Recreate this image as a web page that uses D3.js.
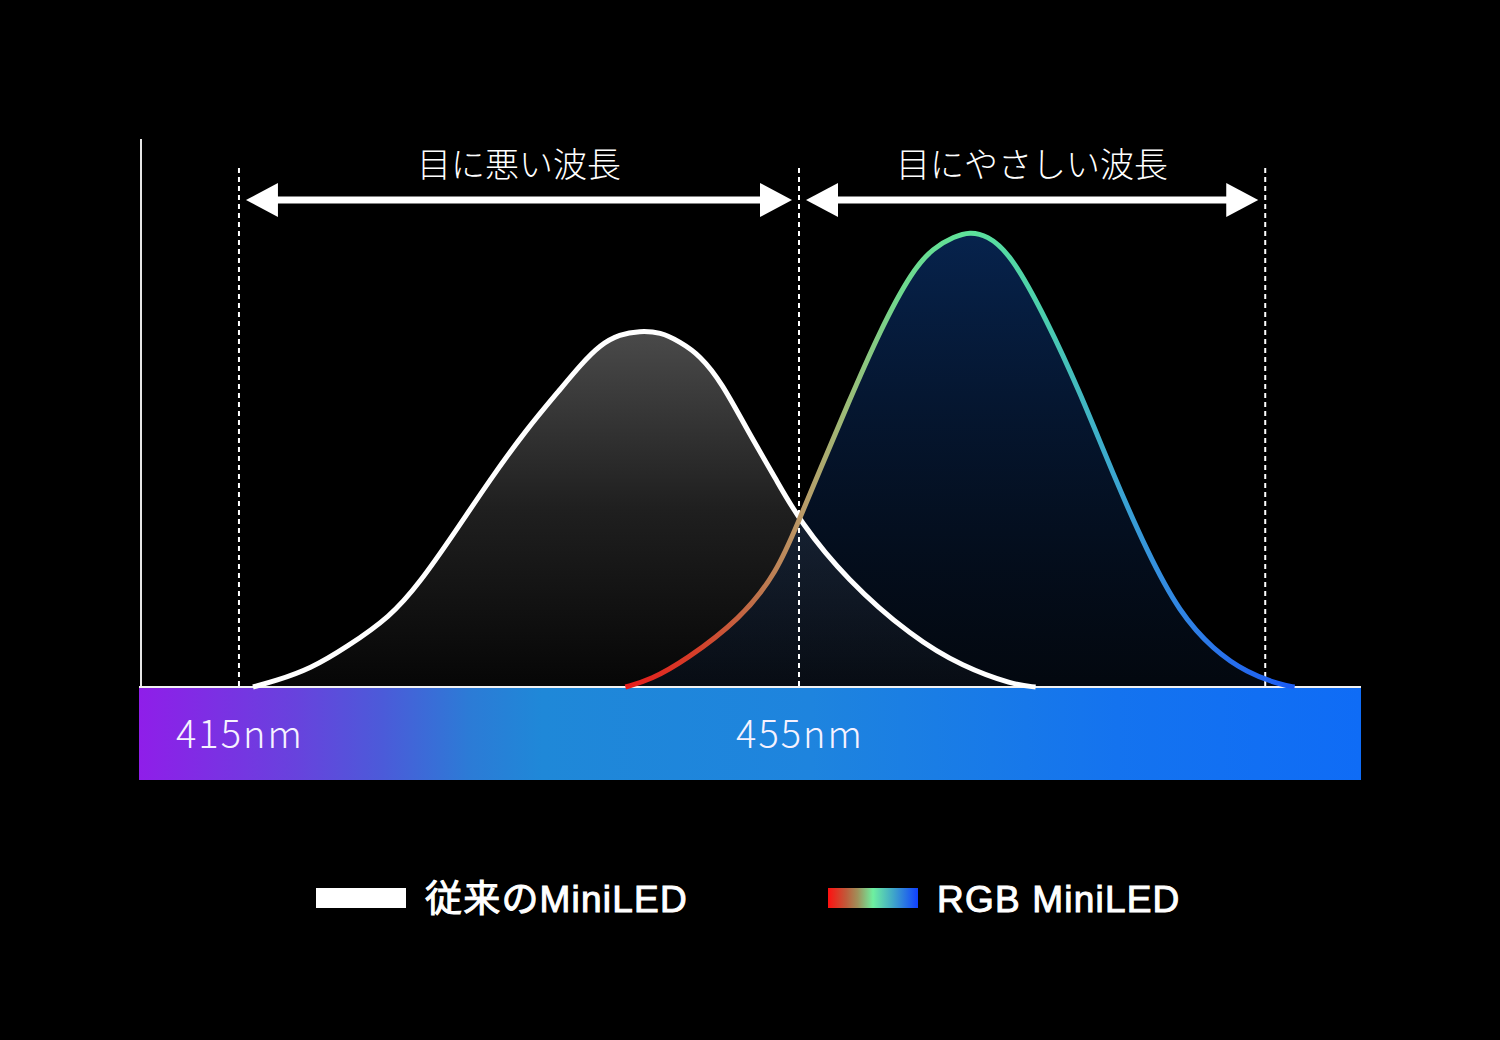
<!DOCTYPE html>
<html lang="ja">
<head>
    <meta charset="UTF-8">
    <title>RGB MiniLED spectrum</title>
    <script src="https://cdn.jsdelivr.net/npm/d3@7/dist/d3.min.js"></script>
</head>
<body>
<svg id='chart' width='1500' height='1040'></svg>
</body>
</html>
<script>
    // 波長の境界 (nm)
    var boundaryNm = [415, 455, 488.3]
    var tickNm = [415, 455]
    var tickLabels = ['415nm', '455nm']
    var bandTitles = ['目に悪い波長', '目にやさしい波長']
    var seriesNames = ['従来のMiniLED', 'RGB MiniLED']

    // 従来のMiniLED (nm, 相対強度)
    var conventionalNm = [416.0, 417.6, 420.1, 422.7, 425.8, 427.9, 430.4, 432.9, 435.5, 438.0, 439.4, 440.8,
        442.2, 443.6, 445.1, 446.5, 447.9, 449.5, 451.3, 453.4, 455.0, 458.4, 463.1, 466.7, 470.3, 471.9]
    var conventionalValue = [0, 1.1, 3.3, 7.3, 12.8, 19.0, 28.2, 37.8, 47.0, 54.6, 58.9, 62.6,
        64.5, 65.1, 64.9, 63.1, 60.7, 55.6, 47.0, 37.8, 30.5, 19.6, 9.1, 3.7, 0.4, 0]

    // RGB MiniLED
    var rgbNm = [442.6, 444.4, 446.9, 450.8, 453.4, 455.0, 456.5, 458.4, 460.8, 463.1, 464.6, 466.1, 467.2,
        468.4, 470.1, 472.7, 475.1, 477.4, 479.9, 482.2, 484.6, 487.0, 489.4, 490.4]
    var rgbValue = [0, 1.3, 4.9, 12.4, 20.8, 30.5, 39.7, 51.2, 65.3, 76.2, 80.3, 82.4, 83.2,
        82.6, 79.3, 67.1, 53.7, 39.1, 24.5, 13.5, 6.8, 2.6, 0.4, 0]

    var width = 1500,
        height = 1040,
        plotLeft = 139, plotRight = 1361,
        plotBase = 687, plotTop = 140   //  window.top と被らないように

    var x = d3.scaleLinear().domain([407.86, 495.14]).range([plotLeft, plotRight])
    var y = d3.scaleLinear().domain([0, 100]).range([plotBase, plotTop])

    var svg = d3.select('#chart').style('background', '#000').style('display', 'block')
    var defs = svg.append('defs')

    function linearGrad(id, x1, y1, x2, y2, stops) {
        var g = defs.append('linearGradient').attr('id', id)
            .attr('gradientUnits', 'userSpaceOnUse')
            .attr('x1', x1).attr('y1', y1).attr('x2', x2).attr('y2', y2)
        stops.forEach(function (s) {
            g.append('stop').attr('offset', s[0]).attr('stop-color', s[1])
                .attr('stop-opacity', s[2] == null ? 1 : s[2])
        })
    }

    svg.append('rect').attr('width', width).attr('height', height).attr('fill', '#000')

    // 下の波長バー
    linearGrad('barGrad', plotLeft, 0, plotRight, 0, [
        [0, '#8f1ee9'], [0.13, '#6743dd'], [0.2, '#4b5bd9'], [0.27, '#2c7bd6'],
        [0.33, '#1f88d8'], [0.55, '#1e84de'], [0.8, '#1473ef'], [1, '#0f6cf6']])
    svg.append('rect').attr('x', plotLeft).attr('y', plotBase).attr('width', plotRight - plotLeft).attr('height', 93)
        .attr('fill', 'url(#barGrad)')

    // 面のグラデーション
    linearGrad('whiteFill', 0, y(65), 0, plotBase, [[0, '#4a4a4a'], [0.5, '#1f1f1f'], [1, '#060606']])
    linearGrad('rgbFill', 0, y(83), 0, plotBase, [[0, '#0b3a80', 0.6], [0.5, '#0a2a5a', 0.45], [1, '#0a1a33', 0.3]])
    linearGrad('rgbStroke', x(442.6), 0, x(490.4), 0, [
        [0, '#e81c1c'], [0.11, '#d4402a'], [0.2, '#bd744c'], [0.26, '#bc9866'], [0.33, '#9cbc78'],
        [0.41, '#6fd88e'], [0.51, '#5ee39a'], [0.62, '#4ccfac'], [0.71, '#3eaeca'],
        [0.8, '#348ee0'], [0.9, '#2870ec'], [1, '#1a5cf5']])
    linearGrad('legendGrad', 828, 0, 918, 0, [
        [0, '#ff1010'], [0.2, '#c05a3a'], [0.33, '#a0905a'], [0.5, '#6ef0a0'],
        [0.72, '#40a8c8'], [1, '#1040ff']])

    var conventional = conventionalNm.map(function (d, i) { return [d, conventionalValue[i]] })
    var rgb = rgbNm.map(function (d, i) { return [d, rgbValue[i]] })

    //  読み取り誤差のガタつきを抑えるため B-spline で滑らかに
    var area = d3.area().x(function (d) { return x(d[0]) }).y0(y(0)).y1(function (d) { return y(d[1]) })
        .curve(d3.curveBasis)
    var line = d3.line().x(function (d) { return x(d[0]) }).y(function (d) { return y(d[1]) })
        .curve(d3.curveBasis)

    svg.append('path').datum(conventional).attr('d', area).attr('fill', 'url(#whiteFill)')
    svg.append('path').datum(rgb).attr('d', area).attr('fill', 'url(#rgbFill)')

    // 縦軸と基線
    svg.append('line').attr('x1', 141).attr('x2', 141).attr('y1', plotTop - 1).attr('y2', plotBase)
        .style('stroke', '#e6e6e6').style('stroke-width', 2)
    svg.append('line').attr('x1', plotLeft).attr('x2', plotRight).attr('y1', plotBase).attr('y2', plotBase)
        .style('stroke', '#f2f2f2').style('stroke-width', 2)

    // 点線
    svg.selectAll('.guide').data(boundaryNm).enter().append('line').attr('class', 'guide')
        .attr('x1', function (d) { return x(d) }).attr('x2', function (d) { return x(d) })
        .attr('y1', 168).attr('y2', plotBase)
        .style('stroke', '#fff').style('stroke-width', 2).style('stroke-dasharray', '5,4')

    svg.append('path').datum(conventional).attr('d', line).attr('fill', 'none')
        .style('stroke', '#fff').style('stroke-width', 5)
    svg.append('path').datum(rgb).attr('d', line).attr('fill', 'none')
        .style('stroke', 'url(#rgbStroke)').style('stroke-width', 5)

    // 矢印と見出し
    var arrowY = 200, gap = 7, headLen = 32, headHalf = 17
    for (var i = 0; i < 2; i++) {
        var a = x(boundaryNm[i]) + gap, b = x(boundaryNm[i + 1]) - gap
        var g = svg.append('g')
        g.append('line').attr('x1', a + headLen - 2).attr('x2', b - headLen + 2)
            .attr('y1', arrowY).attr('y2', arrowY).style('stroke', '#fff').style('stroke-width', 7)
        g.append('path').attr('fill', '#fff')
            .attr('d', 'M' + a + ',' + arrowY + 'L' + (a + headLen) + ',' + (arrowY - headHalf) +
                'L' + (a + headLen) + ',' + (arrowY + headHalf) + 'Z')
        g.append('path').attr('fill', '#fff')
            .attr('d', 'M' + b + ',' + arrowY + 'L' + (b - headLen) + ',' + (arrowY - headHalf) +
                'L' + (b - headLen) + ',' + (arrowY + headHalf) + 'Z')
        g.append('text').attr('class', 'band-title')
            .attr('x', (a + b) / 2).attr('y', 177)
            .style('text-anchor', 'middle')
            .text(bandTitles[i])
    }

    // 波長ラベル
    svg.selectAll('.tick-label').data(tickNm).enter().append('text').attr('class', 'tick-label')
        .attr('x', function (d) { return x(d) + 1 }).attr('y', 748)
        .style('text-anchor', 'middle')
        .text(function (d, i) { return tickLabels[i] })

    // 凡例
    var legend = svg.append('g')
    legend.append('rect').attr('x', 316).attr('y', 888).attr('width', 90).attr('height', 20).attr('fill', '#fff')
    legend.append('text').attr('class', 'legend-text').attr('x', 425).attr('y', 912).text(seriesNames[0])
    legend.append('rect').attr('x', 828).attr('y', 888).attr('width', 90).attr('height', 20).attr('fill', 'url(#legendGrad)')
    legend.append('text').attr('class', 'legend-text').attr('x', 937).attr('y', 912).text(seriesNames[1])
</script>
<style>
    body { margin: 0; background: #000; }
    .band-title {
        font-family: 'Noto Sans CJK JP', sans-serif;
        font-weight: 300;
        font-size: 34px;
        fill: #fff;
    }
    .tick-label {
        font-family: 'Noto Sans CJK JP', sans-serif;
        font-weight: 300;
        font-size: 38px;
        letter-spacing: 2px;
        fill: #f6f2ff;
    }
    .legend-text {
        font-family: 'Liberation Sans', 'Noto Sans CJK JP', sans-serif;
        font-weight: 400;
        font-size: 37px;
        letter-spacing: 1.2px;
        fill: #fff;
        stroke: #fff;
        stroke-width: 1px;
    }
</style>
